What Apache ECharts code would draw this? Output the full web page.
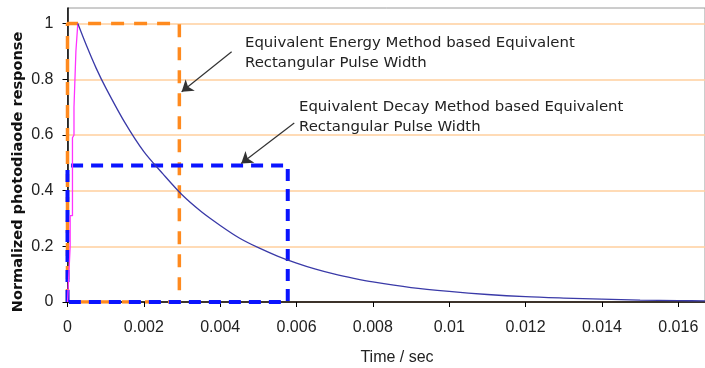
<!DOCTYPE html>
<html>
<head>
<meta charset="utf-8">
<script src="https://cdn.jsdelivr.net/npm/echarts@6/dist/echarts.min.js"></script>
<style>html,body{margin:0;padding:0;background:#fff;}#c{width:705px;height:368px;}</style>
</head>
<body>
<div id="c"></div>
<script>
// Decay curve (time in s, normalized response)
const decayT = [0.00027,0.0005,0.00075,0.001,0.0015,0.002,0.0025,0.003,0.0035,0.004,0.0045,0.005,0.0055,0.006,0.0065,0.007,0.0075,0.008,0.009,0.01,0.011,0.012,0.013,0.014,0.015,0.016,0.0168];
const decayV = [1.0,0.92,0.84,0.77,0.645,0.54,0.46,0.385,0.325,0.275,0.23,0.195,0.165,0.14,0.118,0.1,0.085,0.072,0.052,0.038,0.027,0.019,0.014,0.010,0.007,0.005,0.004];
// Rising edge (pink)
const riseT = [0,0.00007,0.00007,0.00013,0.00013,0.00017,0.00017,0.00022,0.00022,0.00027,0.00027];
const riseV = [0,0.2,0.31,0.31,0.59,0.6,0.7,0.7,0.9,0.9,1.0];
// Equivalent rectangles
const energyWidth = 0.00293, energyHeight = 1.0;
const decayWidth = 0.00577, decayHeight = 0.49;
const energyRectT = [0,0,energyWidth,energyWidth,0];
const energyRectV = [0,energyHeight,energyHeight,0,0];
const decayRectT = [0,0,decayWidth,decayWidth,0];
const decayRectV = [0,decayHeight,decayHeight,0,0];
// Annotation arrows [startT,startV,endT,endV]
const arrow1 = [0.00430,0.899,0.00299,0.755];
const arrow2 = [0.00594,0.643,0.00455,0.4975];
const xTicks = {min:0,max:0.0167,interval:0.002};
const yTicks = {min:0,max:1.056,interval:0.2};

const zip = (a,b)=>a.map((x,i)=>[x,b[i]]);
const chart = echarts.init(document.getElementById('c'));
const font = 'Liberation Sans, Arial, sans-serif';
const annFont = 'DejaVu Sans, Verdana, sans-serif';
chart.setOption({
  animation:false,
  backgroundColor:'#fff',
  grid:{left:67.5,right:0,top:8,bottom:66,show:true,borderColor:'#9a9a9a',borderWidth:1,backgroundColor:'transparent'},
  xAxis:{type:'value',min:xTicks.min,max:xTicks.max,interval:xTicks.interval,
    axisLine:{show:true,onZero:false,lineStyle:{color:'#000',width:1.5}},
    axisTick:{show:true,inside:false,length:5,lineStyle:{color:'#000'}},
    axisLabel:{showMaxLabel:false,margin:18,color:'#222',fontSize:16,fontFamily:font},
    splitLine:{show:false}},
  yAxis:{type:'value',min:yTicks.min,max:yTicks.max,interval:yTicks.interval,
    axisLine:{show:true,lineStyle:{color:'#000',width:1.5}},
    axisTick:{show:true,inside:false,length:5,lineStyle:{color:'#000'}},
    axisLabel:{showMaxLabel:false,margin:14,color:'#222',fontSize:16,fontFamily:font,
      formatter:v=>String(Math.round(v*10)/10)},
    splitLine:{show:true,showMaxLine:false,lineStyle:{color:'#ffcf9e',width:1.5}}},
  series:[
    {type:'line',data:zip(energyRectT,energyRectV),symbol:'none',z:3,
      lineStyle:{color:'#ff8a1e',width:3.5,type:[13,10]},
      markLine:{silent:true,symbol:['none','arrow'],symbolSize:11,label:{show:false},
        lineStyle:{color:'#333',width:1.2,type:'solid'},
        data:[[{coord:[arrow1[0],arrow1[1]]},{coord:[arrow1[2],arrow1[3]]}],
              [{coord:[arrow2[0],arrow2[1]]},{coord:[arrow2[2],arrow2[3]]}]]}},
    {type:'line',data:zip(decayRectT,decayRectV),symbol:'none',z:4,
      lineStyle:{color:'#0a14ff',width:4,type:[12,8]}},
    {type:'line',data:zip(riseT,riseV),symbol:'none',z:5,
      lineStyle:{color:'#ff33ff',width:1.3}},
    {type:'line',data:zip(decayT,decayV),symbol:'none',smooth:0.3,z:6,
      lineStyle:{color:'#3a3aa8',width:1.3}}
  ],
  graphic:[
    {type:'text',x:245,y:53,style:{text:'Equivalent Energy Method based Equivalent\nRectangular Pulse Width',
      font:'14.9px '+annFont,fill:'#222',textVerticalAlign:'middle',lineHeight:20}},
    {type:'text',x:299,y:117,style:{text:'Equivalent Decay Method based Equivalent\nRectangular Pulse Width',
      font:'14.9px '+annFont,fill:'#222',textVerticalAlign:'middle',lineHeight:20}},
    {type:'text',x:18,y:172,rotation:Math.PI/2,style:{text:'Normalized photodiaode response',
      font:'bold 14.5px '+annFont,fill:'#111',textAlign:'center',textVerticalAlign:'middle'}},
    {type:'text',x:397,y:358,style:{text:'Time / sec',
      font:'16px '+font,fill:'#222',textAlign:'center',textVerticalAlign:'middle'}}
  ]
});
</script>
</body>
</html>
